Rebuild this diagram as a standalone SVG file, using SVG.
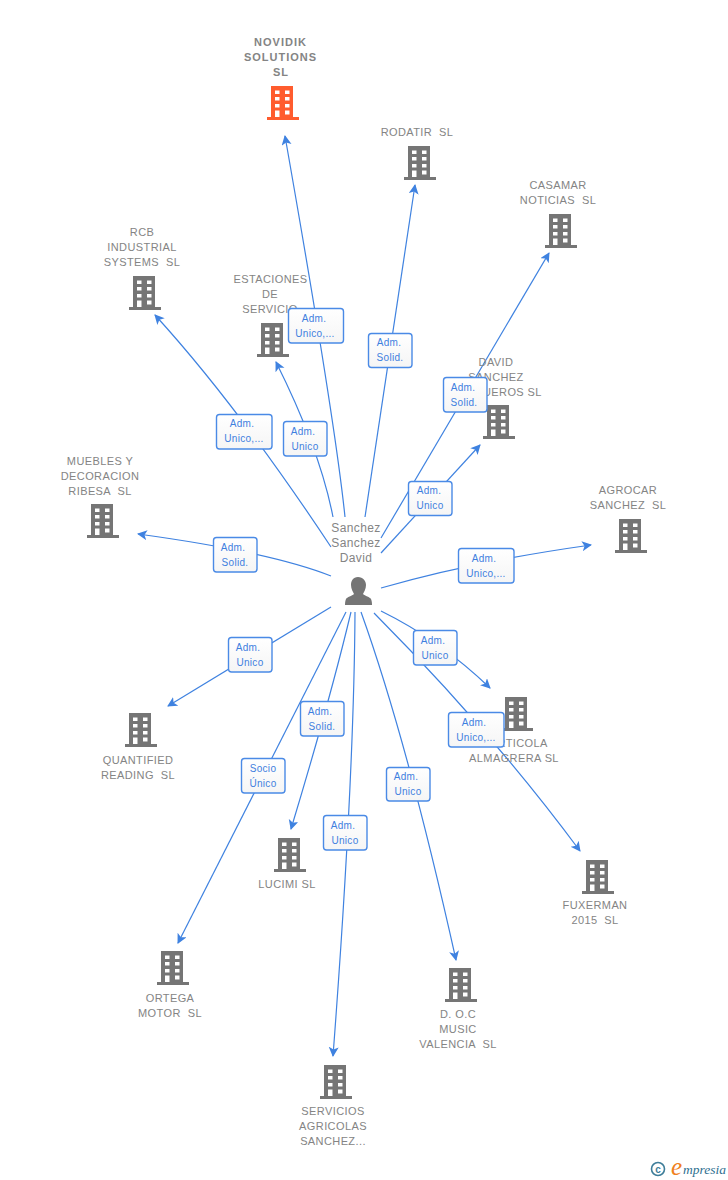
<svg xmlns="http://www.w3.org/2000/svg" width="728" height="1180" viewBox="0 0 728 1180">
<style>
.n{font:11px "Liberation Sans",Arial,sans-serif;fill:#848484;text-anchor:middle;white-space:pre;letter-spacing:.4px}
.b{font-weight:bold;letter-spacing:1px}
.p{font-size:12px}
.e{fill:url(#g);stroke:#4a8ae6;stroke-width:1.4}
.l{font:10px "Liberation Sans",Arial,sans-serif;fill:#3f7fdf;text-anchor:middle;letter-spacing:.3px}
.c{fill:none;stroke:#3f82e0;stroke-width:1.2;marker-end:url(#a)}
</style>
<defs>
<marker id="a" markerUnits="userSpaceOnUse" markerWidth="12" markerHeight="12" refX="9" refY="5" orient="auto"><path d="M0 0L10 5L0 10L2.500 5Z" fill="#3f82e0"/></marker>
<symbol id="bd" width="32" height="35" viewBox="0 0 32 35" overflow="visible">
<path fill-rule="evenodd" d="M4 0H26V31H32V34H0V31H4ZM8 4.500V8H12.500V4.500ZM18 4.500V8H22.500V4.500ZM8 11V14.500H12.500V11ZM18 11V14.500H22.500V11ZM8 18V21.500H12.500V18ZM18 18V21.500H22.500V18ZM8 24.500V31H12.500V24.500ZM18 24.500V28.500H22.500V24.500Z"/>
</symbol>
<linearGradient id="g" x1="0" y1="0" x2="0" y2="1"><stop offset="0" stop-color="#fff"/><stop offset="1" stop-color="#f5f5f5"/></linearGradient>
</defs>
<g id="connectors">
<path class="c" d="M345 517Q335 420 285 136"/>
<path class="c" d="M365 517Q385 380 415 185"/>
<path class="c" d="M381 538L549 253"/>
<path class="c" d="M381 553L480 445"/>
<path class="c" d="M381 588Q470 562 591 545"/>
<path class="c" d="M381 611Q440 640 490 688"/>
<path class="c" d="M374 613Q492 732 580 851"/>
<path class="c" d="M361 612Q407 740 456 960"/>
<path class="c" d="M355 612Q354 780 333 1056"/>
<path class="c" d="M351 612Q330 700 291 829"/>
<path class="c" d="M346 612L178 943"/>
<path class="c" d="M331 607L168 706"/>
<path class="c" d="M331 576Q270 552 138 534"/>
<path class="c" d="M331 547Q237 405 155 315"/>
<path class="c" d="M333 517Q320 450 276 362"/>
</g>
<g id="novidik" fill="#ff5c2e"><use href="#bd" x="267" y="86"/><text class="n b" x="280.500" y="46">NOVIDIK</text><text class="n b" x="280.500" y="61">SOLUTIONS</text><text class="n b" x="281" y="76">SL</text></g>
<g id="rodatir" fill="#757575"><use href="#bd" x="404" y="146"/><text class="n" x="417" y="136">RODATIR  SL</text></g>
<g id="casamar" fill="#757575"><use href="#bd" x="545" y="214"/><text class="n" x="558" y="189">CASAMAR</text><text class="n" x="558" y="204">NOTICIAS  SL</text></g>
<g id="rcb" fill="#757575"><use href="#bd" x="129" y="276"/><text class="n" x="142" y="236">RCB</text><text class="n" x="142" y="251">INDUSTRIAL</text><text class="n" x="142" y="266">SYSTEMS  SL</text></g>
<g id="estaciones" fill="#757575"><use href="#bd" x="257" y="323"/><text class="n" x="270.500" y="283">ESTACIONES</text><text class="n" x="270" y="298">DE</text><text class="n" x="270" y="313">SERVICIO</text></g>
<g id="david" fill="#757575"><use href="#bd" x="483" y="405"/><text class="n" x="496" y="366">DAVID</text><text class="n" x="496" y="381">SANCHEZ</text><text class="n" x="496" y="396">BANQUEROS SL</text></g>
<g id="muebles" fill="#757575"><use href="#bd" x="87" y="504"/><text class="n" x="100" y="465">MUEBLES Y</text><text class="n" x="100" y="480">DECORACION</text><text class="n" x="100" y="495">RIBESA  SL</text></g>
<g id="agrocar" fill="#757575"><use href="#bd" x="615" y="519"/><text class="n" x="628" y="494">AGROCAR</text><text class="n" x="628" y="509">SANCHEZ  SL</text></g>
<g id="quantified" fill="#757575"><use href="#bd" x="125" y="713"/><text class="n" x="138" y="764">QUANTIFIED</text><text class="n" x="138" y="779">READING  SL</text></g>
<g id="viticola" fill="#757575"><use href="#bd" x="501" y="697"/><text class="n" x="514" y="747">HORTICOLA</text><text class="n" x="514" y="762">ALMAGRERA SL</text></g>
<g id="fuxerman" fill="#757575"><use href="#bd" x="582" y="860"/><text class="n" x="595" y="909">FUXERMAN</text><text class="n" x="595" y="924">2015  SL</text></g>
<g id="lucimi" fill="#757575"><use href="#bd" x="274" y="838"/><text class="n" x="287" y="888">LUCIMI SL</text></g>
<g id="ortega" fill="#757575"><use href="#bd" x="157" y="951"/><text class="n" x="170" y="1002">ORTEGA</text><text class="n" x="170" y="1017">MOTOR  SL</text></g>
<g id="doc" fill="#757575"><use href="#bd" x="445" y="968"/><text class="n" x="458" y="1018">D. O.C</text><text class="n" x="458" y="1033">MUSIC</text><text class="n" x="458" y="1048">VALENCIA  SL</text></g>
<g id="servicios" fill="#757575"><use href="#bd" x="320" y="1065"/><text class="n" x="333" y="1115">SERVICIOS</text><text class="n" x="333" y="1130">AGRICOLAS</text><text class="n" x="333" y="1145">SANCHEZ...</text></g>
<g id="person"><text class="n p" x="356" y="532">Sanchez</text><text class="n p" x="356" y="547">Sanchez</text><text class="n p" x="356" y="562">David</text>
<path fill="#757575" d="M358 577C353 577 351 581 351 585C351 589 353 592 354 594C352 596 347 597 346 599C345 601 345 604 345 605H372C372 604 372 601 371 599C370 597 365 596 363 594C364 592 366 589 366 585C366 581 363 577 358 577Z"/></g>
<g id="labels">
<g><rect class="e" x="288.500" y="308.500" width="55" height="34.500" rx="3"/><text class="l" x="314" y="322">Adm.</text><text class="l" x="315" y="337">Unico,...</text></g>
<g><rect class="e" x="368.500" y="333.500" width="43.500" height="34" rx="3"/><text class="l" x="389" y="346">Adm.</text><text class="l" x="390" y="361">Solid.</text></g>
<g><rect class="e" x="443.500" y="377.500" width="43.500" height="34.500" rx="3"/><text class="l" x="463" y="391">Adm.</text><text class="l" x="464" y="406">Solid.</text></g>
<g><rect class="e" x="408.500" y="481.500" width="43.500" height="34" rx="3"/><text class="l" x="429" y="494">Adm.</text><text class="l" x="430" y="509">Unico</text></g>
<g><rect class="e" x="458.500" y="548.500" width="55.500" height="34.500" rx="3"/><text class="l" x="484" y="562">Adm.</text><text class="l" x="486" y="577">Unico,...</text></g>
<g><rect class="e" x="413.500" y="630.500" width="43.500" height="34.500" rx="3"/><text class="l" x="433" y="644">Adm.</text><text class="l" x="435" y="659">Unico</text></g>
<g><rect class="e" x="448.500" y="712.500" width="55.500" height="34.500" rx="3"/><text class="l" x="474" y="726">Adm.</text><text class="l" x="476" y="741">Unico,...</text></g>
<g><rect class="e" x="386.500" y="767.500" width="43.500" height="33.500" rx="3"/><text class="l" x="406" y="780">Adm.</text><text class="l" x="408" y="795">Unico</text></g>
<g><rect class="e" x="323.500" y="815.500" width="43.500" height="34.500" rx="3"/><text class="l" x="343" y="829">Adm.</text><text class="l" x="345" y="844">Unico</text></g>
<g><rect class="e" x="300.500" y="701.500" width="43.500" height="34.500" rx="3"/><text class="l" x="320" y="715">Adm.</text><text class="l" x="322" y="730">Solid.</text></g>
<g><rect class="e" x="241.500" y="758.500" width="43.500" height="34.500" rx="3"/><text class="l" x="263" y="772">Socio</text><text class="l" x="263" y="787">Único</text></g>
<g><rect class="e" x="228.500" y="637.500" width="43.500" height="34.500" rx="3"/><text class="l" x="248" y="651">Adm.</text><text class="l" x="250" y="666">Unico</text></g>
<g><rect class="e" x="213.500" y="537.500" width="43.500" height="34.500" rx="3"/><text class="l" x="233" y="551">Adm.</text><text class="l" x="235" y="566">Solid.</text></g>
<g><rect class="e" x="216.500" y="414.500" width="55.500" height="34.500" rx="3"/><text class="l" x="242" y="427">Adm.</text><text class="l" x="244" y="442">Unico,...</text></g>
<g><rect class="e" x="283.500" y="421.500" width="43.500" height="34.500" rx="3"/><text class="l" x="303" y="435">Adm.</text><text class="l" x="305" y="450">Unico</text></g>
</g>
<g id="logo"><circle cx="658" cy="1169" r="6.500" fill="none" stroke="#3e7d99" stroke-width="1.600"/><text x="658" y="1172.500" font-family="Liberation Sans,sans-serif" font-size="10" font-weight="bold" fill="#3e7d99" text-anchor="middle">c</text><text x="671" y="1175" font-family="Liberation Serif,serif" font-style="italic" font-size="25" fill="#f08020">e</text><text x="683" y="1174" font-family="Liberation Serif,serif" font-style="italic" font-size="13.500" fill="#2f6f8f">mpresia</text></g>
</svg>
